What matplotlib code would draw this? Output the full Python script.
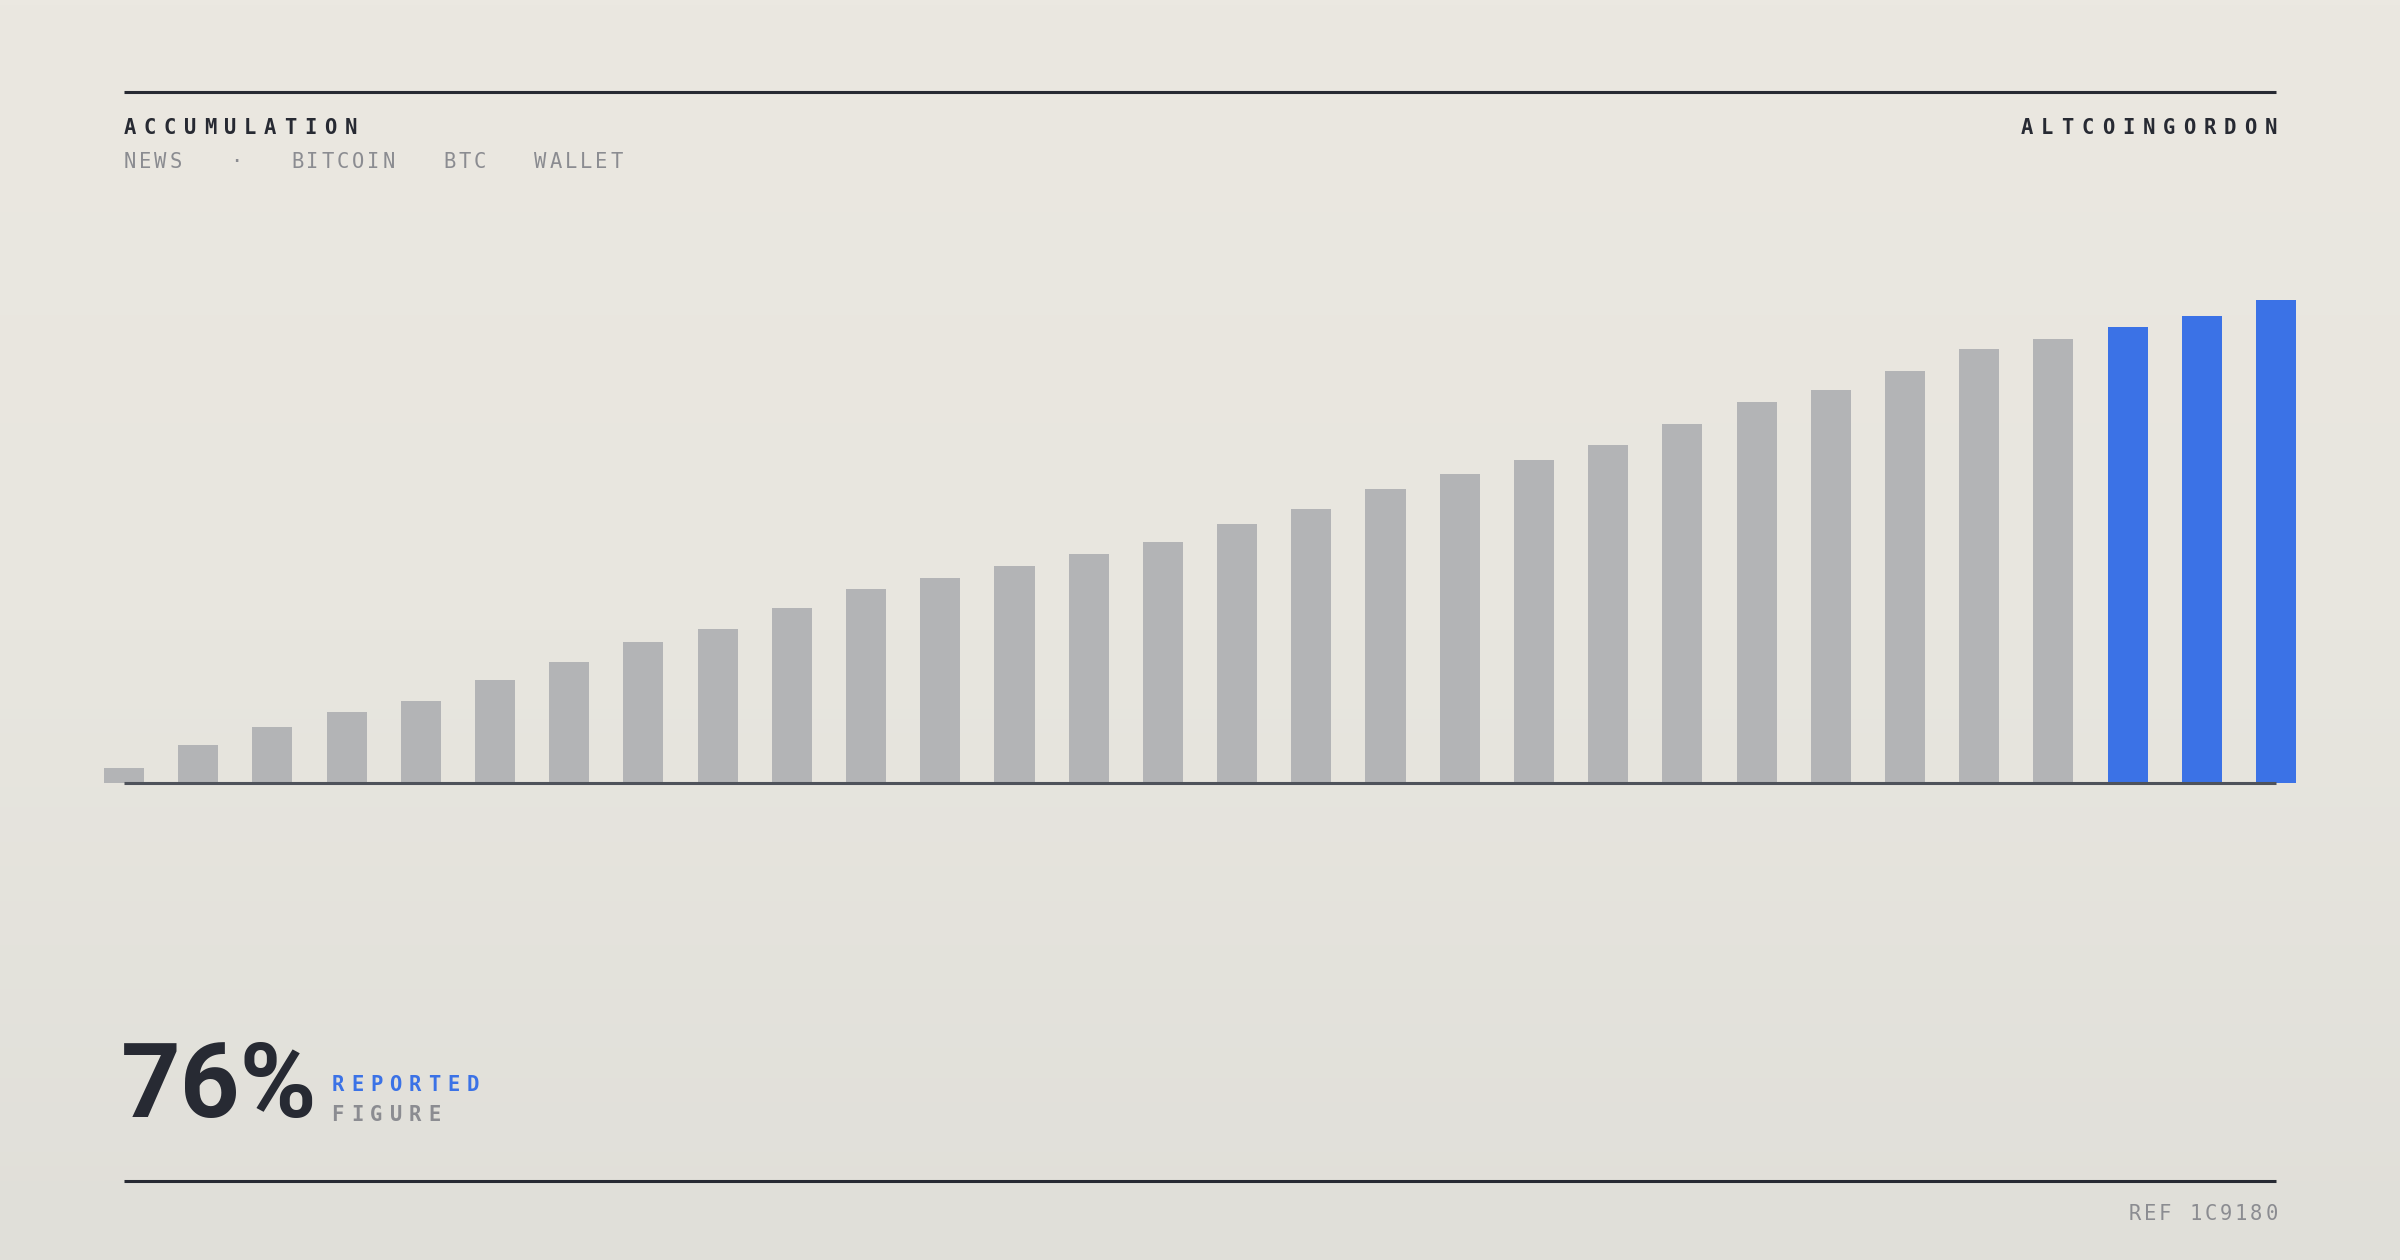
import numpy as np
import matplotlib
matplotlib.use("Agg")
import matplotlib.pyplot as plt
from matplotlib.lines import Line2D
from matplotlib.colors import LinearSegmentedColormap

W, H = 2400, 1260

# bar heights (last bar = 100)
values = [3.1, 7.9, 11.7, 14.7, 17.0, 21.4, 25.2, 29.3, 31.9, 36.2,
          40.1, 42.4, 45.0, 47.4, 49.9, 53.7, 56.8, 60.8, 64.1, 66.9,
          69.9, 74.3, 78.8, 81.4, 85.4, 89.8, 91.9, 94.4, 96.7, 100.0]
n_highlight = 3

title = "ACCUMULATION"
subtitle = "NEWS   ·   BITCOIN   BTC   WALLET"
brand = "ALTCOINGORDON"
big_number = "76%"
label_top = "REPORTED"
label_bottom = "FIGURE"
ref_text = "REF 1C9180"

DARK = "#272a33"
GRAY_BAR = "#b3b4b6"
BLUE = "#3b72e6"
GRAY_TXT = "#8b8c91"
MONO = "DejaVu Sans Mono"

fig = plt.figure(figsize=(12, 6.3), dpi=200)

# background gradient
bg = fig.add_axes([0, 0, 1, 1], zorder=-10)
cmap = LinearSegmentedColormap.from_list("bg", ["#ebe8e1", "#e8e6df", "#e0dfd9"])
bg.imshow(np.linspace(0, 1, 256).reshape(-1, 1), aspect="auto", cmap=cmap,
          extent=[0, 1, 0, 1])
bg.axis("off")


def fx(x):
    return x / W


def fy(y):
    return 1 - y / H


def tracked(x_left, y_base, s, pitch, **kw):
    # letter spaced text: one glyph at a time
    for i, ch in enumerate(s):
        if ch == " ":
            continue
        fig.text(fx(x_left + 5.5 + i * pitch), fy(y_base), ch,
                 ha="center", va="baseline", **kw)


# rules
for y in (92, 1180.5):
    fig.add_artist(Line2D([fx(124), fx(2276)], [fy(y), fy(y)],
                          color=DARK, lw=1.1, solid_capstyle="butt"))

# header
tracked(124, 134.3, title, 20.1, family=MONO, fontsize=7.4,
        fontweight="bold", color=DARK)
tracked(124.5, 168.3, subtitle, 15.2, family=MONO, fontsize=7.4,
        color=GRAY_TXT)
tracked(2276 - 11 - 12 * 20.3, 134.3, brand, 20.3, family=MONO,
        fontsize=7.4, fontweight="bold", color=DARK)

# bars
ax = fig.add_axes([fx(124), (H - 783.3) / H, 2152 / W, 483.3 / H])
x = np.arange(len(values))
colors = [GRAY_BAR] * (len(values) - n_highlight) + [BLUE] * n_highlight
ax.bar(x, values, width=0.54, color=colors, clip_on=False, zorder=2)
ax.axhline(0, color="#4e525a", lw=1.1, zorder=3, clip_on=False,
           solid_capstyle="butt")
ax.set_xlim(0, len(values) - 1)
ax.set_ylim(0, 100)
ax.axis("off")

# big figure
fig.text(fx(121), fy(1116.7), big_number, ha="left", va="baseline",
         family="Roboto", fontweight="bold", fontsize=37.5, color=DARK)
tracked(332.3, 1090.7, label_top, 19.3, family=MONO, fontsize=7.4,
        fontweight="bold", color=BLUE)
tracked(332.3, 1120.7, label_bottom, 19.3, family=MONO, fontsize=7.4,
        fontweight="bold", color=GRAY_TXT)

# footer
tracked(2276 - 10 - 9 * 15.2, 1220, ref_text, 15.2, family=MONO,
        fontsize=7.4, color=GRAY_TXT)

fig.savefig("out.png", dpi=200)
